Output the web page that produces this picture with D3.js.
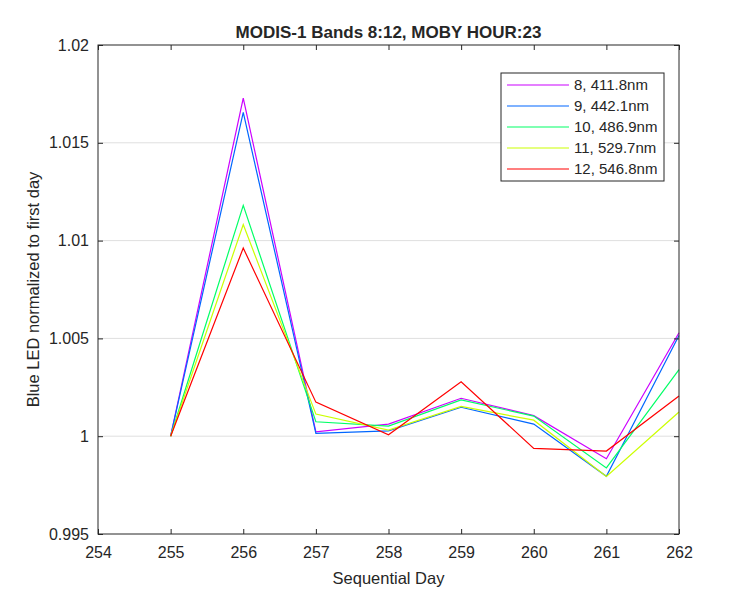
<!DOCTYPE html>
<html>
<head>
<meta charset="utf-8">
<script src="https://cdn.jsdelivr.net/npm/d3@7"></script>
<style>
  body { margin: 0; background: #fff; }
  text { font-family: "Liberation Sans", Arial, sans-serif; fill: #262626; }
</style>
</head>
<body>
<script>
// Data
let days = [255, 256, 257, 258, 259, 260, 261, 262];
let bandNames = ["8, 411.8nm", "9, 442.1nm", "10, 486.9nm", "11, 529.7nm", "12, 546.8nm"];
let bandColors = ["#cc00ff", "#0066ff", "#00ff66", "#ccff00", "#ff0000"];
let band8  = [1.0, 1.01728, 1.00022, 1.00062, 1.00194, 1.00105, 0.99885, 1.00529];
let band9  = [1.0, 1.01655, 1.00015, 1.00027, 1.00148, 1.00062, 0.99795, 1.00515];
let band10 = [1.0, 1.01180, 1.00074, 1.00052, 1.00186, 1.00103, 0.99838, 1.00340];
let band11 = [1.0, 1.01082, 1.00113, 1.00031, 1.00152, 1.00082, 0.99794, 1.00124];
let band12 = [1.0, 1.00962, 1.00174, 1.00007, 1.00278, 0.99938, 0.99924, 1.00206];
let xTicks = [254, 255, 256, 257, 258, 259, 260, 261, 262];
let yTicks = [0.995, 1, 1.005, 1.01, 1.015, 1.02];

let series = [band8, band9, band10, band11, band12];

let margin = { top: 45, right: 71, bottom: 66, left: 98 };
let width = 750 - margin.left - margin.right;
let height = 600 - margin.top - margin.bottom;

let svg = d3.select("body")
  .append("svg")
    .attr("width", 750)
    .attr("height", 600);

let g = svg.append("g")
    .attr("transform", "translate(" + margin.left + "," + margin.top + ")");

let x = d3.scaleLinear().domain([254, 262]).range([0, width]);
let y = d3.scaleLinear().domain([0.995, 1.02]).range([height, 0]);

// horizontal grid
g.selectAll(".grid")
  .data(yTicks.slice(1, -1)).enter().append("line")
    .attr("x1", 0).attr("x2", width)
    .attr("y1", d => y(d)).attr("y2", d => y(d))
    .attr("stroke", "#dfdfdf").attr("stroke-width", 1);

// lines
let line = d3.line()
  .x((d, i) => x(days[i]))
  .y(d => y(d));

g.selectAll(".band")
  .data(series).enter().append("path")
    .attr("fill", "none")
    .attr("stroke", (d, i) => bandColors[i])
    .attr("stroke-width", 1.2)
    .attr("d", line);

// axes (MATLAB style: ticks pointing in, box on)
function styleAxis(sel) {
  sel.select(".domain").remove();
  sel.selectAll(".tick line").attr("stroke", "#262626");
  sel.selectAll(".tick text").style("font-size", "16px").attr("fill", "#262626");
}

g.append("g")
  .attr("transform", "translate(0," + height + ")")
  .call(d3.axisBottom(x).tickValues(xTicks).tickSizeInner(-5).tickSizeOuter(0).tickPadding(13).tickFormat(d3.format("d")))
  .call(styleAxis);

g.append("g")
  .call(d3.axisTop(x).tickValues(xTicks).tickSizeInner(-5).tickSizeOuter(0).tickFormat(""))
  .call(styleAxis);

g.append("g")
  .call(d3.axisLeft(y).tickValues(yTicks).tickSizeInner(-5).tickSizeOuter(0).tickPadding(9).tickFormat(d => d3.format("")(+d.toFixed(3))))
  .call(styleAxis);

g.append("g")
  .attr("transform", "translate(" + width + ",0)")
  .call(d3.axisRight(y).tickValues(yTicks).tickSizeInner(-5).tickSizeOuter(0).tickFormat(""))
  .call(styleAxis);

g.append("rect")
  .attr("width", width).attr("height", height)
  .attr("fill", "none").attr("stroke", "#262626").attr("stroke-width", 1);

// title and labels
svg.append("text")
  .attr("x", margin.left + width / 2).attr("y", 38)
  .attr("text-anchor", "middle")
  .style("font-size", "17px").style("font-weight", "bold")
  .attr("fill", "#000")
  .text("MODIS-1 Bands 8:12, MOBY HOUR:23");

svg.append("text")
  .attr("x", margin.left + width / 2).attr("y", 584)
  .attr("text-anchor", "middle")
  .style("font-size", "16.5px")
  .text("Sequential Day");

svg.append("text")
  .attr("transform", "translate(39," + (margin.top + height / 2) + ") rotate(-90)")
  .attr("text-anchor", "middle")
  .style("font-size", "16.5px")
  .text("Blue LED normalized to first day");

// legend
let legend = svg.append("g").attr("transform", "translate(501,73)");
legend.append("rect")
  .attr("width", 163).attr("height", 108)
  .attr("fill", "#fff").attr("stroke", "#262626").attr("stroke-width", 1);

let items = legend.selectAll(".item")
  .data(bandNames).enter().append("g")
    .attr("transform", (d, i) => "translate(0," + (12 + i * 21) + ")");

items.append("line")
  .attr("x1", 6).attr("x2", 68)
  .attr("stroke", (d, i) => bandColors[i]).attr("stroke-width", 1.2);

items.append("text")
  .attr("x", 73).attr("dy", "0.35em")
  .style("font-size", "15px")
  .text(d => d);
</script>
</body>
</html>
